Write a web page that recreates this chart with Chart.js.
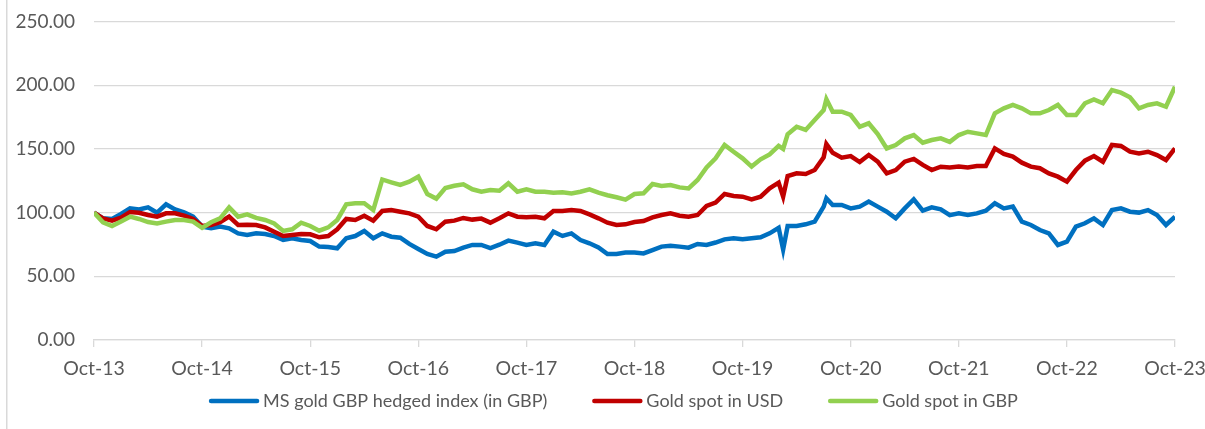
<!DOCTYPE html>
<html>
<head>
<meta charset="utf-8">
<script src="https://cdn.jsdelivr.net/npm/chart.js@4.4.1/dist/chart.umd.min.js"></script>
<style>
  html, body { margin: 0; padding: 0; background: #ffffff; }
  #wrap { width: 1205px; height: 429px; position: relative; }
  canvas { display: block; }
</style>
</head>
<body>
<div id="wrap"><canvas id="chart" width="1205" height="429"></canvas></div>
<script>
// ---- Data ----
const tickLabels = ['Oct-13','Oct-14','Oct-15','Oct-16','Oct-17','Oct-18','Oct-19','Oct-20','Oct-21','Oct-22','Oct-23'];

// months since Oct-13 for each sample
const monthIndex = [
  0,1,2,3,4,5,6,7,8,9,10,11,12,13,14,15,16,17,18,19,20,21,22,23,24,
  25,26,27,28,29,30,31,32,33,34,35,36,37,38,39,40,41,42,43,44,45,46,47,48,
  49,50,51,52,53,54,55,56,57,58,59,60,61,62,63,64,65,66,67,68,69,70,71,72,
  73,74,75,76,76.5,77,78,79,80,81,81.3,82,83,84,85,86,87,88,89,90,91,92,93,94,95,96,
  97,98,99,100,101,102,103,104,105,106,107,108,109,110,111,112,113,114,115,116,117,118,119,120
];

const msGoldGbpHedged = [
  100,95.5,95.0,98.9,103.3,102.5,104.1,99.9,106.5,102.5,100.2,96.8,89.0,87.7,89.0,87.7,83.7,82.4,83.7,83.2,81.6,78.5,79.8,78.5,77.7,
  73.3,73.0,72.0,79.8,81.6,85.5,79.8,83.7,81.1,80.3,75.4,71.4,67.5,65.4,69.3,69.8,72.5,74.6,74.6,72.2,74.8,78.0,76.4,74.6,
  75.9,74.6,85.0,81.7,83.7,78.5,75.9,72.7,67.5,67.5,68.6,68.6,68.0,70.6,73.3,74.0,73.3,72.5,75.4,74.6,76.5,79.0,79.8,79.0,
  79.8,80.6,83.7,88.0,71.0,89.5,89.5,90.8,92.9,104.7,111.2,106.0,106.0,103.3,104.7,108.6,104.7,100.7,95.5,103.3,110.4,101.5,104.1,102.6,98.0,99.4,
  98.1,99.4,101.5,107.3,103.3,104.7,92.9,90.3,86.3,83.7,74.6,77.2,89.0,91.6,95.5,90.3,102.0,103.3,100.7,100.0,102.0,98.1,90.3,96.8
];

const goldSpotUsd = [
  100,95.5,93.7,96.0,100.5,99.9,98.1,96.8,99.4,99.4,97.6,95.0,89.5,90.3,92.4,96.8,90.3,90.5,90.3,88.4,85.0,81.6,82.4,83.2,83.0,
  80.6,81.6,86.9,95.0,94.2,97.6,93.7,101.3,102.0,100.7,99.4,96.8,89.5,86.9,92.9,93.7,95.8,94.5,95.3,92.1,95.5,99.4,96.8,96.3,
  96.8,95.5,101.3,101.3,102.0,101.3,98.6,95.5,92.1,90.3,90.8,92.6,93.4,96.3,98.1,99.4,97.6,96.8,98.1,105.2,107.8,114.6,113.0,112.5,
  110.4,112.5,119.1,123.5,112.5,128.7,130.8,130.3,133.4,143.4,153.8,147.0,143.1,144.4,139.7,145.2,140.0,130.8,133.4,140.0,142.1,137.4,133.4,136.0,135.5,136.1,
  135.5,136.6,136.6,150.4,146.0,143.9,139.2,136.1,134.8,130.8,128.2,124.3,133.4,140.8,144.4,139.9,153.1,152.3,147.8,146.5,147.8,145.2,141.3,150.4
];

const goldSpotGbp = [
  100,92.4,89.5,93.1,96.8,95.0,92.6,91.5,92.9,94.2,94.2,92.9,88.0,92.4,95.5,104.1,96.8,98.6,95.8,94.2,91.5,85.6,86.9,92.1,89.5,
  85.8,88.4,94.2,106.5,107.3,107.3,102.0,126.0,123.8,121.7,124.3,128.2,114.6,111.0,119.3,121.1,122.2,118.3,116.4,117.7,117.2,123.0,116.4,118.3,
  116.4,116.4,115.6,115.9,115.1,116.4,118.3,115.6,113.6,112.0,110.2,114.6,115.1,122.4,120.9,121.7,119.8,119.0,125.6,135.5,142.6,153.1,147.8,142.6,
  136.1,141.8,145.7,152.3,150.0,161.4,167.4,164.9,172.7,180.5,189.0,179.2,179.2,176.6,167.4,170.1,161.7,150.4,153.0,158.3,160.9,154.9,157.0,158.3,155.5,160.9,
  163.5,162.2,160.9,177.9,181.8,184.5,181.8,177.9,177.9,180.5,184.5,176.6,176.6,185.8,188.9,185.8,196.2,194.1,190.5,181.8,184.5,185.8,183.1,198.8
];

const seriesNames = ['MS gold GBP hedged index (in GBP)', 'Gold spot in USD', 'Gold spot in GBP'];
const seriesColors = ['#0070C0', '#C00000', '#92D050'];

// ---- Build chart ----
const toPoints = arr => monthIndex.map((m, i) => ({ x: m, y: arr[i] }));
const FONT = "Lato, 'Open Sans', 'Liberation Sans', sans-serif";
const TEXT = '#595959';
const GRID = '#D9D9D9';

const frameLine = {
  id: 'frameLine',
  beforeDraw(chart) {
    const c = chart.ctx;
    c.save();
    c.fillStyle = '#ffffff';
    c.fillRect(0, 0, chart.width, chart.height);
    c.strokeStyle = GRID;
    c.lineWidth = 1.5;
    c.beginPath();
    c.moveTo(6.75, 0);
    c.lineTo(6.75, chart.height);
    c.stroke();
    c.restore();
  }
};

// y-axis labels, placed from the library's own y scale
const yAxisLabels = {
  id: 'yAxisLabels',
  afterDraw(chart) {
    const c = chart.ctx;
    const ys = chart.scales.y;
    c.save();
    c.font = "19px " + FONT;
    c.fillStyle = TEXT;
    c.textAlign = 'right';
    c.textBaseline = 'middle';
    ys.ticks.forEach(t => {
      c.fillText(Number(t.value).toFixed(2), chart.chartArea.left - 19, ys.getPixelForValue(t.value));
    });
    c.restore();
  }
};

const bottomLegend = {
  id: 'bottomLegend',
  afterDraw(chart) {
    const c = chart.ctx;
    c.save();
    c.font = "18px " + FONT;
    c.textBaseline = 'middle';
    c.textAlign = 'left';
    const markW = 50, markGap = 4, itemGap = 45;
    const widths = seriesNames.map(n => c.measureText(n).width);
    let total = 0;
    widths.forEach((w, i) => { total += markW + markGap + w + (i < widths.length - 1 ? itemGap : 0); });
    let x = 613.5 - total / 2;
    const y = 401;
    seriesNames.forEach((n, i) => {
      c.strokeStyle = seriesColors[i];
      c.lineWidth = 4.5;
      c.lineCap = 'round';
      c.beginPath();
      c.moveTo(x + 2, y);
      c.lineTo(x + markW - 2, y);
      c.stroke();
      c.fillStyle = TEXT;
      c.fillText(n, x + markW + markGap, y);
      x += markW + markGap + widths[i] + itemGap;
    });
    c.restore();
  }
};

const datasets = [msGoldGbpHedged, goldSpotUsd, goldSpotGbp].map((arr, i) => ({
  label: seriesNames[i],
  data: toPoints(arr),
  borderColor: seriesColors[i],
  backgroundColor: seriesColors[i],
  borderWidth: 4.5,
  pointRadius: 0,
  tension: 0,
  fill: false,
  order: 2 - i
}));

new Chart(document.getElementById('chart').getContext('2d'), {
  type: 'line',
  data: { datasets },
  options: {
    responsive: false,
    animation: false,
    events: [],
    layout: { padding: { left: 94, right: 30, top: 21.5, bottom: 48 } },
    plugins: {
      legend: { display: false },
      tooltip: { enabled: false }
    },
    scales: {
      x: {
        type: 'linear',
        min: 0,
        max: 120,
        afterFit(scale) { scale.height = 41; scale.paddingLeft = 0; scale.paddingRight = 0; },
        grid: { drawOnChartArea: false, drawTicks: true, tickLength: 7, color: GRID, lineWidth: 1.3 },
        border: { display: true, color: GRID, width: 1.3 },
        ticks: {
          stepSize: 12,
          autoSkip: false,
          maxRotation: 0,
          padding: 10,
          color: TEXT,
          font: { family: FONT, size: 19.5 },
          callback: v => tickLabels[Math.round(v / 12)]
        }
      },
      y: {
        min: 0,
        max: 250,
        afterFit(scale) { scale.width = 0; scale.paddingTop = 0; scale.paddingBottom = 0; },
        grid: { color: GRID, lineWidth: 1.3, drawTicks: false },
        border: { display: false },
        ticks: {
          stepSize: 50,
          display: false
        }
      }
    }
  },
  plugins: [frameLine, yAxisLabels, bottomLegend]
});
</script>
</body>
</html>
